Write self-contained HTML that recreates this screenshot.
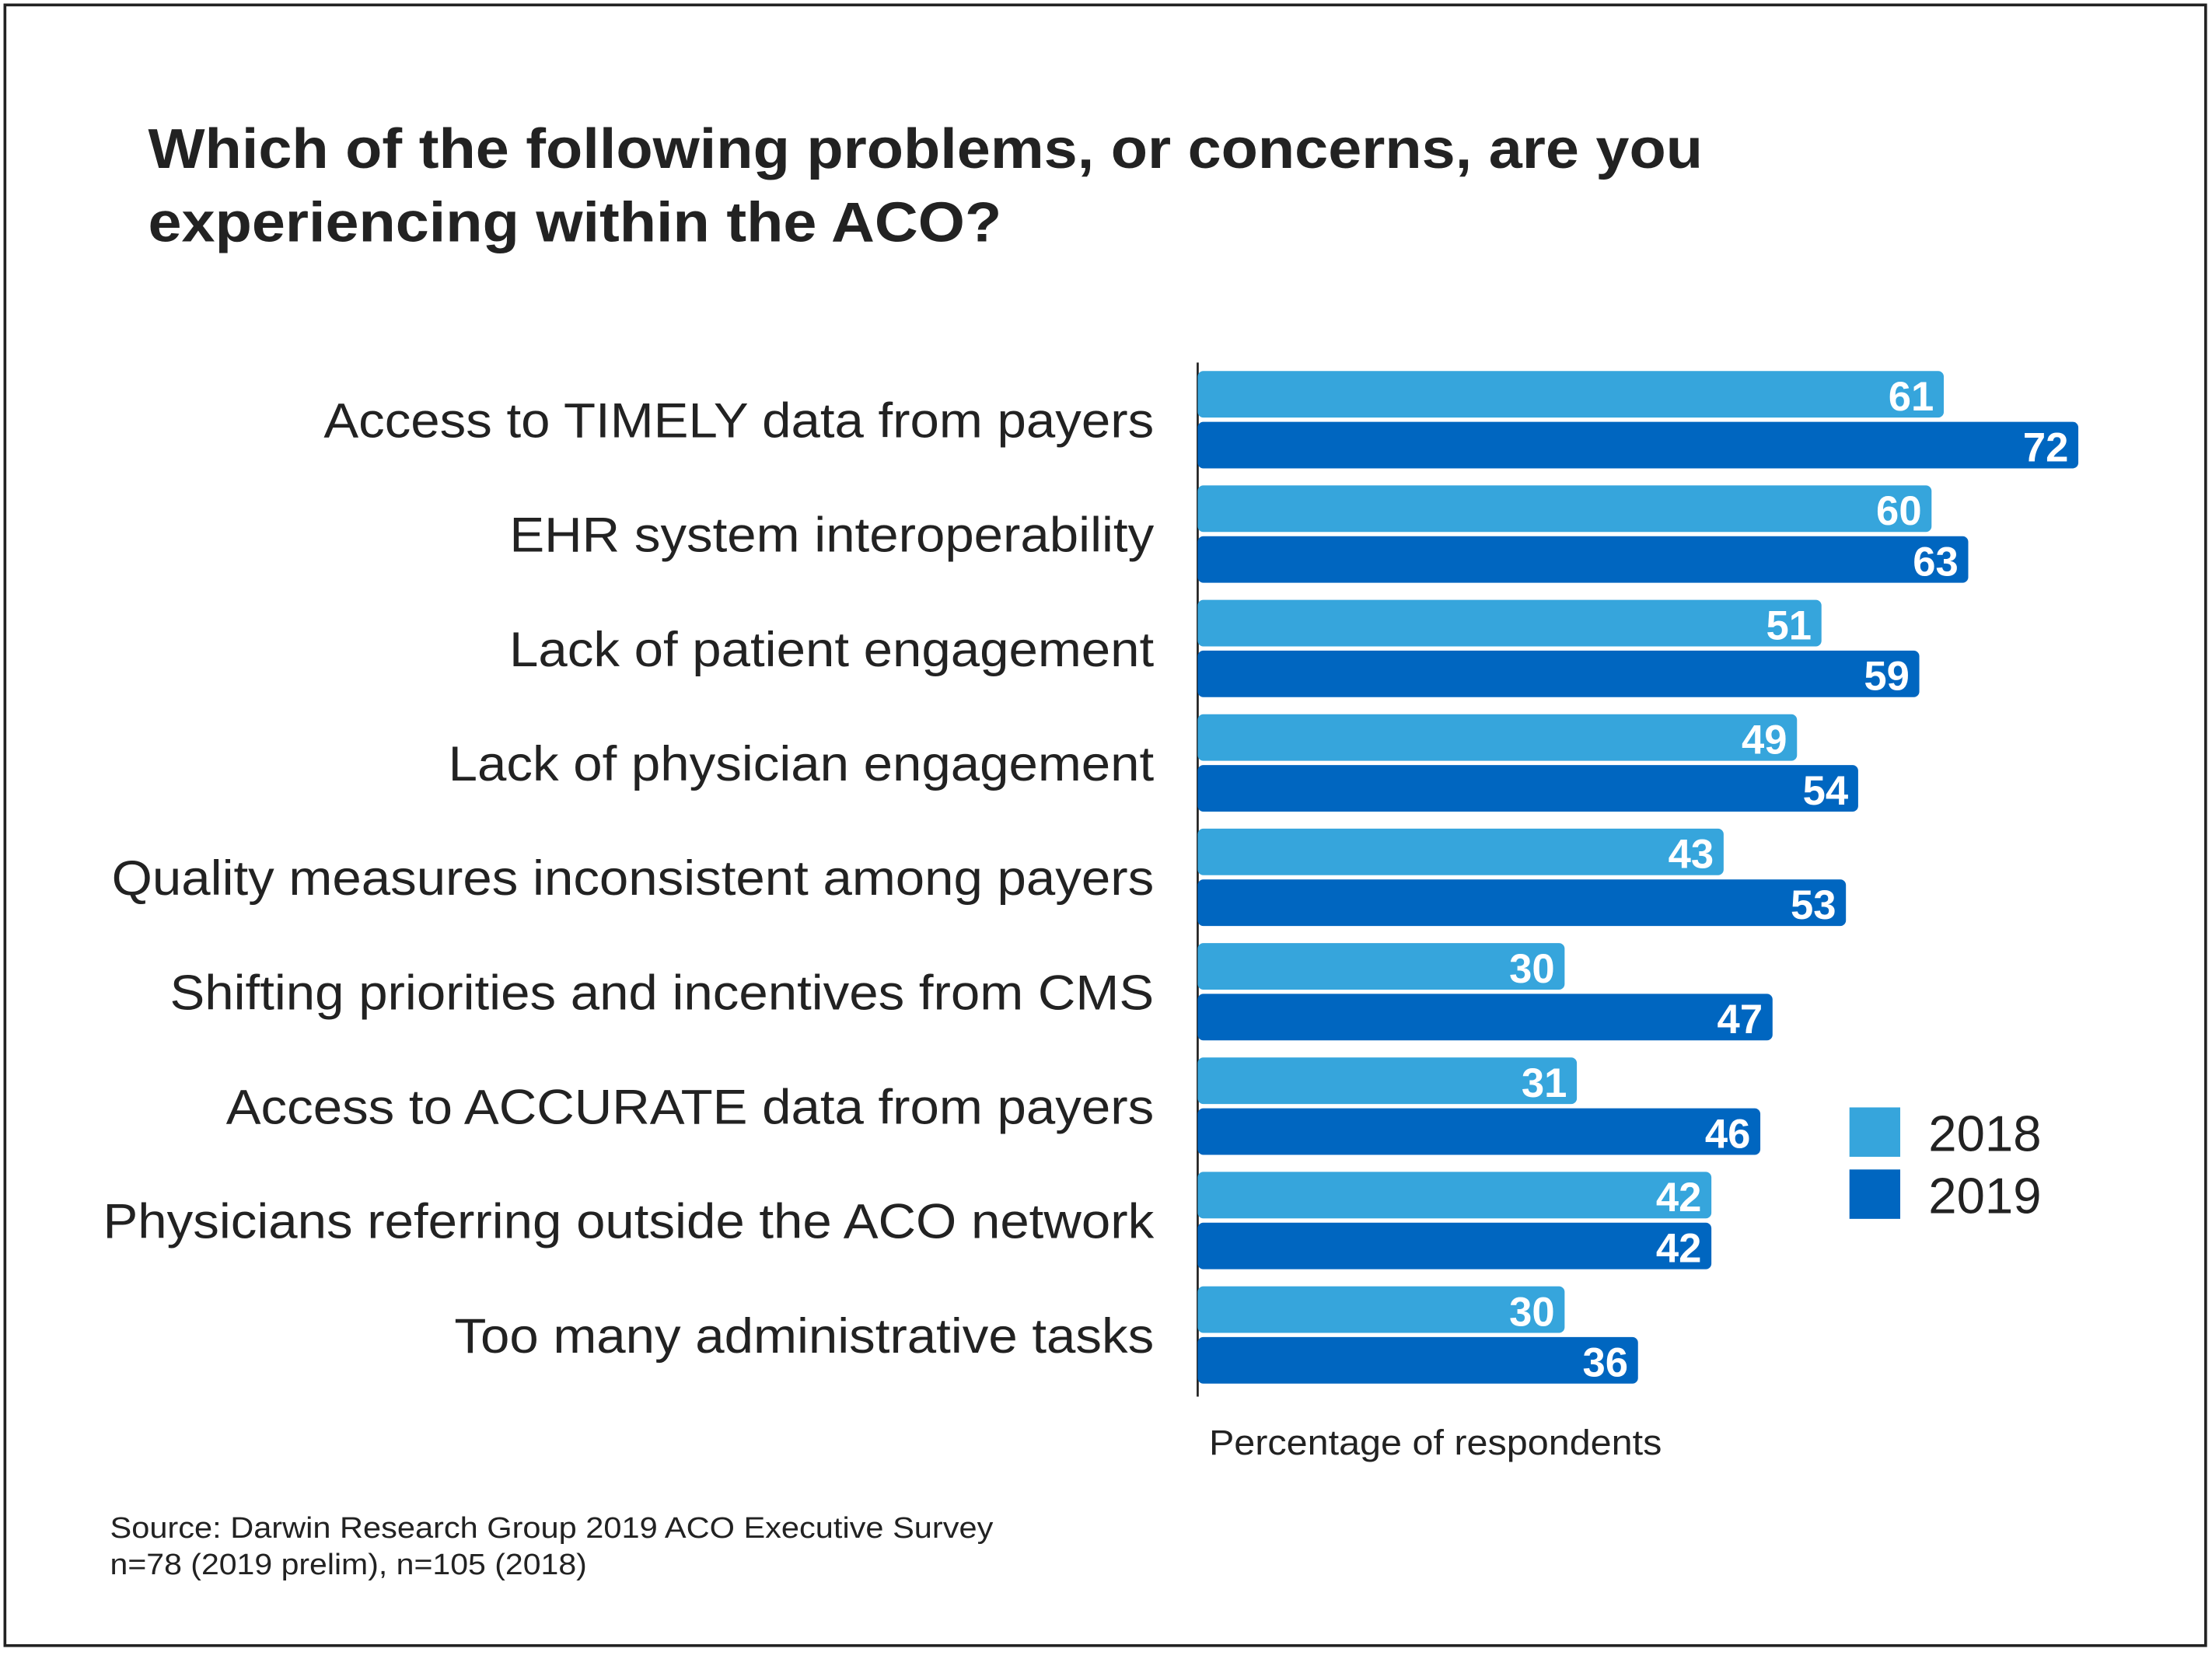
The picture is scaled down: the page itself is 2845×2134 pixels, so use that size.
<!DOCTYPE html>
<html><head><meta charset="utf-8"><style>html,body{margin:0;padding:0;background:#fff}svg{display:block}</style></head>
<body>
<svg xmlns="http://www.w3.org/2000/svg" width="2845" height="2134" viewBox="0 0 1568 1176" preserveAspectRatio="none" font-family="Liberation Sans, sans-serif">
<rect x="3.5" y="3.5" width="1560" height="1163" fill="#fff" stroke="#222" stroke-width="2"/>
<text font-weight="bold" font-size="40" fill="#222"><tspan x="105" y="119" textLength="1102" lengthAdjust="spacingAndGlyphs">Which of the following problems, or concerns, are you</tspan><tspan x="105" y="171" textLength="605" lengthAdjust="spacingAndGlyphs">experiencing within the ACO?</tspan></text>
<line x1="849" y1="257" x2="849" y2="990" stroke="#222" stroke-width="1.5"/>
<g id="bars"></g>
<rect x="1311" y="785" width="36" height="35" fill="#36a5dc"/>
<rect x="1311" y="829" width="36" height="35" fill="#0066c0"/>
<text x="1367" y="816" font-size="36" fill="#222">2018</text>
<text x="1367" y="860" font-size="36" fill="#222">2019</text>
<text x="857" y="1031" font-size="25" fill="#222" textLength="321" lengthAdjust="spacingAndGlyphs">Percentage of respondents</text>
<text font-size="21" fill="#222"><tspan x="78" y="1090" textLength="626" lengthAdjust="spacingAndGlyphs">Source: Darwin Research Group 2019 ACO Executive Survey</tspan><tspan x="78" y="1116" textLength="338" lengthAdjust="spacingAndGlyphs">n=78 (2019 prelim), n=105 (2018)</tspan></text>
</svg>
<script>
const categories=["Access to TIMELY data from payers","EHR system interoperability","Lack of patient engagement","Lack of physician engagement","Quality measures inconsistent among payers","Shifting priorities and incentives from CMS","Access to ACCURATE data from payers","Physicians referring outside the ACO network","Too many administrative tasks"];
const values2018=[61,60,51,49,43,30,31,42,30];
const values2019=[72,63,59,54,53,47,46,42,36];
const ns="http://www.w3.org/2000/svg";
const g=document.getElementById('bars');
const x0=849, unit=8.67, top0=263, step=81.1, bh=33;
function xs(v){return v*unit;}
function mk(t){return document.createElementNS(ns,t);}
categories.forEach((c,i)=>{
  const y=top0+i*step;
  const lab=mk('text');
  
  
  lab.setAttribute('x',818);lab.setAttribute('y',y+47);
  lab.setAttribute('text-anchor','end');lab.setAttribute('font-size','35');lab.setAttribute('fill','#222');
  lab.textContent=c;g.appendChild(lab);
  const w=lab.getComputedTextLength();
  lab.setAttribute('textLength',w*1.058);lab.setAttribute('lengthAdjust','spacingAndGlyphs');
  [[values2018[i],'#36a5dc',y,'bar-2018'],[values2019[i],'#0066c0',y+36,'bar-2019']].forEach(([v,col,yy,nm])=>{
    const r=mk('rect');
    
    
    r.setAttribute('x',x0);r.setAttribute('y',yy);r.setAttribute('width',xs(v));r.setAttribute('height',bh);
    r.setAttribute('rx',4);r.setAttribute('fill',col);g.appendChild(r);
    const t=mk('text');
    
    
    t.setAttribute('x',x0+xs(v)-7);t.setAttribute('y',yy+28);
    t.setAttribute('text-anchor','end');t.setAttribute('font-size','29');t.setAttribute('font-weight','bold');t.setAttribute('fill','#fff');
    t.textContent=v;g.appendChild(t);
  });
});
</script>
</body></html>
